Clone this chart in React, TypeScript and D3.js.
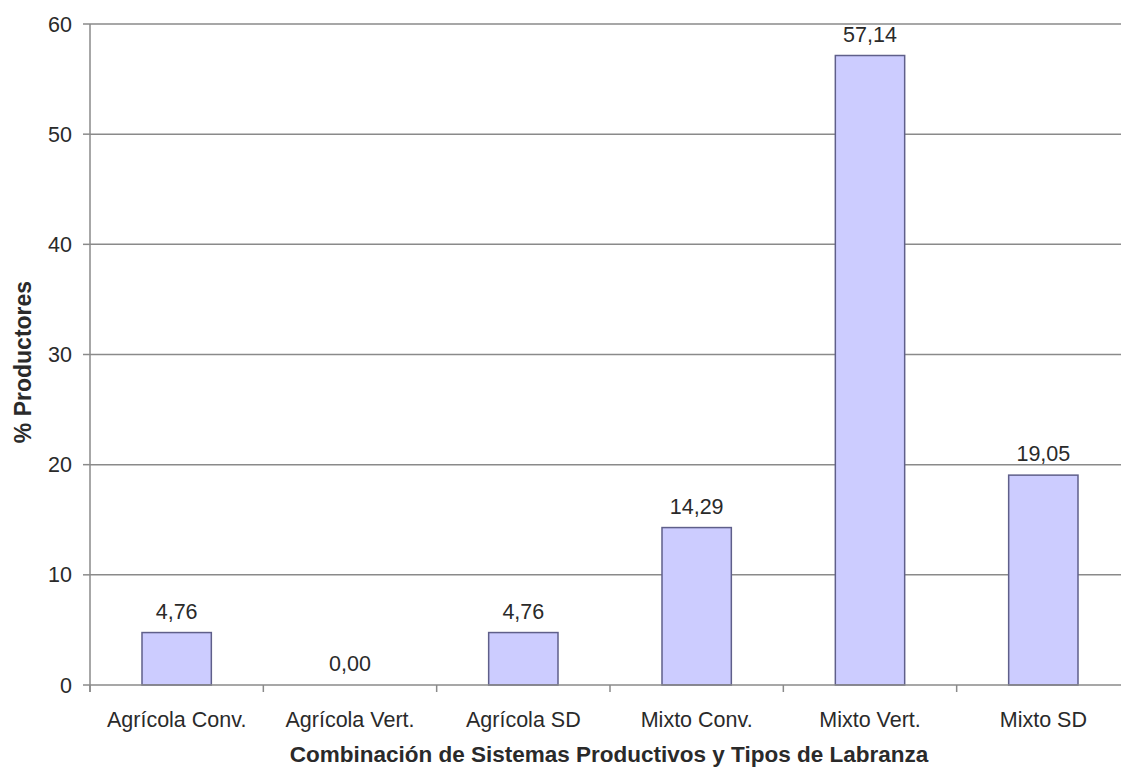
import React from "react";
import * as d3 from "d3";

const categories = ["Agrícola Conv.", "Agrícola Vert.", "Agrícola SD", "Mixto Conv.", "Mixto Vert.", "Mixto SD"];
const values = [4.76, 0.0, 4.76, 14.29, 57.14, 19.05];
const yTicks = [0, 10, 20, 30, 40, 50, 60];

const W = 1121;
const H = 769;
const left = 90;
const right = 1130;
const top = 24;
const bottom = 685;

export default function App() {
  const x = d3.scaleBand<string>().domain(categories).range([left, right]).paddingInner(0).paddingOuter(0);
  const y = d3.scaleLinear().domain([0, 60]).range([bottom, top]);
  const bw = x.bandwidth() * 0.4;
  const font = "'Liberation Sans', Arial, sans-serif";
  const grid = "#8a8a8a";
  const textColor = "#2a2a2a";
  const fs = 21.5;
  const fmt = (v: number) => v.toFixed(2).replace(".", ",");
  return (
    <svg width={W} height={H} style={{ position: "absolute", left: 0, top: 0, background: "#fff" }} fontFamily={font}>
      {yTicks.map((t) => (
        <g key={t}>
          {t > 0 && <line x1={left} x2={right} y1={y(t)} y2={y(t)} stroke={grid} strokeWidth={1.5} />}
          <line x1={left - 7} x2={left} y1={y(t)} y2={y(t)} stroke={grid} strokeWidth={1.5} />
          <text x={72} y={y(t)} dy="0.35em" textAnchor="end" fontSize={fs} fill={textColor}>{t}</text>
        </g>
      ))}
      {categories.map((c, i) => {
        const cx = x(c)! + x.bandwidth() / 2;
        const v = values[i];
        return (
          <g key={c}>
            {v > 0 && (
              <rect x={cx - bw / 2} y={y(v)} width={bw} height={y(0) - y(v)} fill="#ccccff" stroke="#5f5f8a" strokeWidth={1.5} />
            )}
            <text x={cx} y={y(v) - 14} textAnchor="middle" fontSize={fs} fill={textColor}>{fmt(v)}</text>
            <text x={cx} y={727} textAnchor="middle" fontSize={fs} fill={textColor}>{c}</text>
          </g>
        );
      })}
      {categories.map((c) => (
        <line key={"t" + c} x1={x(c)!} x2={x(c)!} y1={bottom} y2={bottom + 7} stroke={grid} strokeWidth={1.5} />
      ))}
      <line x1={left} x2={left} y1={top} y2={bottom + 7} stroke={grid} strokeWidth={1.5} />
      <line x1={left} x2={right} y1={bottom} y2={bottom} stroke={grid} strokeWidth={1.5} />
      <text x={609} y={762} textAnchor="middle" fontSize={22.5} fontWeight="bold" fill={textColor}>
        Combinación de Sistemas Productivos y Tipos de Labranza
      </text>
      <text transform={`translate(31, 362) rotate(-90)`} textAnchor="middle" fontSize={23} fontWeight="bold" fill={textColor}>
        % Productores
      </text>
    </svg>
  );
}
